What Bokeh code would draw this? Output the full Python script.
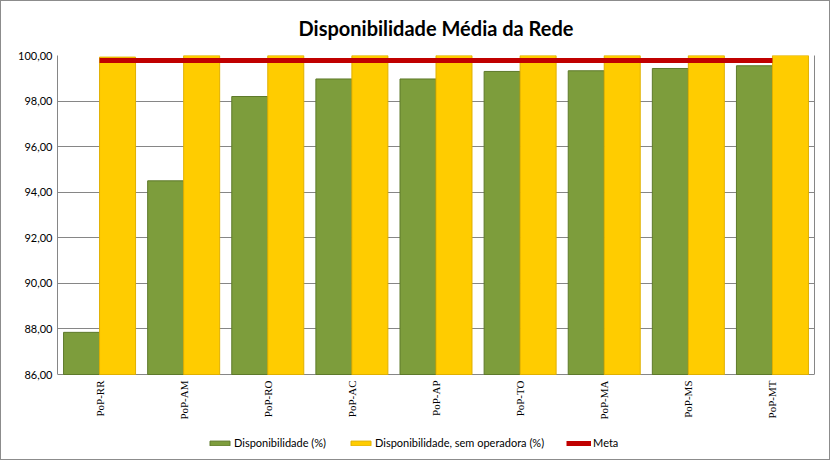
import math
from bokeh.plotting import figure
from bokeh.models import (ColumnDataSource, FactorRange, Range1d, FixedTicker,
                          Legend, LegendItem, Title, LinearAxis)
from bokeh.transform import dodge
from bokeh.embed import file_html
from bokeh.resources import INLINE

categories = ["PoP-RR", "PoP-AM", "PoP-RO", "PoP-AC", "PoP-AP",
              "PoP-TO", "PoP-MA", "PoP-MS", "PoP-MT"]
disponibilidade = [87.85, 94.50, 98.20, 98.97, 98.97, 99.30, 99.33, 99.43, 99.55]
disp_sem_operadora = [99.93, 100.0, 100.0, 100.0, 100.0, 100.0, 100.0, 100.0, 100.0]
meta = [99.78] * 9
y_ticks = [86, 88, 90, 92, 94, 96, 98, 100]
y_tick_labels = ["86,00", "88,00", "90,00", "92,00", "94,00", "96,00", "98,00", "100,00"]
series_names = ["Disponibilidade (%)", "Disponibilidade, sem operadora (%)", "Meta"]
title_text = "Disponibilidade Média da Rede"

y_min, y_max = y_ticks[0], y_ticks[-1]
base = [y_min] * len(categories)

src = ColumnDataSource(dict(cat=categories, d=disponibilidade,
                            s=disp_sem_operadora, m=meta, base=base))

# plot box 757 x 319 px for 86..100; the frame extends 83 px lower
# to hold the category labels and legend
VALUE_PX = 319 / (y_max - y_min)
EXTRA_PX = 83
p = figure(frame_width=757, frame_height=319 + EXTRA_PX, output_backend="svg",
           toolbar_location=None, x_axis_location=None,
           x_range=FactorRange(*categories, range_padding=0),
           y_range=Range1d(y_min - EXTRA_PX / VALUE_PX, y_max),
           min_border_left=56, min_border_right=15, min_border_top=53,
           min_border_bottom=2)
p.styles = {"border": "1px solid #8c8c8c"}

GRID = "#868686"
p.outline_line_color = None
p.xgrid.grid_line_color = None
p.ygrid.grid_line_color = GRID
p.ygrid.ticker = FixedTicker(ticks=y_ticks)

p.yaxis.ticker = FixedTicker(ticks=y_ticks)
p.yaxis.bounds = (y_min, y_max)
p.yaxis.major_label_overrides = {t: l for t, l in zip(y_ticks, y_tick_labels)}
p.yaxis.axis_line_color = GRID
p.yaxis.major_tick_line_color = None
p.yaxis.minor_tick_line_color = None
p.yaxis.major_tick_out = 0
p.yaxis.major_tick_in = 0
p.yaxis.major_label_text_font = "Lato"
p.yaxis.major_label_text_font_size = "11px"
p.yaxis.major_label_text_color = "#000000"
p.yaxis.major_label_standoff = 5

right_axis = LinearAxis(ticker=FixedTicker(ticks=y_ticks), bounds=(y_min, y_max),
                        axis_line_color=GRID, major_tick_line_color=None,
                        minor_tick_line_color=None, major_tick_out=0,
                        major_tick_in=0, major_label_text_font_size="0px",
                        major_label_standoff=0)
p.add_layout(right_axis, "right")

w = 0.428
r1 = p.vbar(x=dodge("cat", -w / 2, range=p.x_range), top="d", bottom=y_min,
            width=w, source=src, fill_color="#7d9d3c", line_color="#5e7a2a",
            line_width=1)
r2 = p.vbar(x=dodge("cat", w / 2, range=p.x_range), top="s", bottom=y_min,
            width=w, source=src, fill_color="#ffcc00", line_color="#e0b000",
            line_width=1)
r3 = p.line(x="cat", y="m", source=src, line_color="#c00000", line_width=5)

# category labels, rotated, reading bottom to top, hanging below the base line
p.text(x="cat", y="base", text="cat", source=src, angle=math.pi / 2,
       text_align="right", text_baseline="middle", y_offset=6,
       text_font="Liberation Sans", text_font_size="11px", text_color="#000000")

legend = Legend(items=[LegendItem(label=series_names[0], renderers=[r1]),
                       LegendItem(label=series_names[1], renderers=[r2]),
                       LegendItem(label=series_names[2], renderers=[r3])],
                orientation="horizontal", location=(150, 8),
                glyph_width=25, glyph_height=6, label_standoff=2, spacing=22,
                label_text_font="Lato", label_text_font_size="11px",
                label_text_color="#000000", border_line_color=None,
                background_fill_alpha=0, padding=2, margin=0)
p.add_layout(legend, "center")

p.title = Title(text=title_text, align="center", text_font="Lato",
                text_font_size="20px", text_font_style="bold",
                text_color="#000000", vertical_align="top", standoff=28)

open("out.html", "w").write(file_html(p, INLINE))
